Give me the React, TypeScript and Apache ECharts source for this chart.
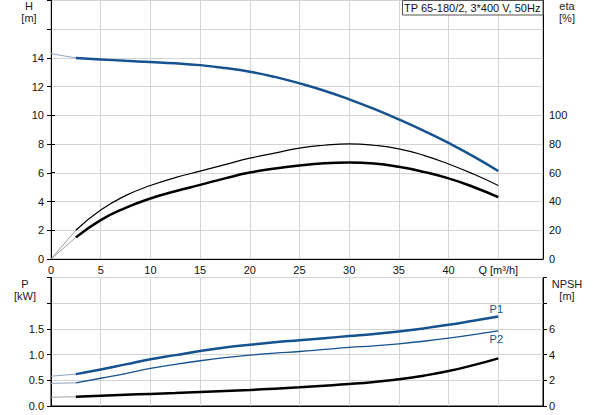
import React, { useEffect, useRef } from "react";
import * as echarts from "echarts";

// Flow values (m³/h) for the main curve sections
const Q = [2.5, 5, 7.5, 10, 12.5, 15, 17.5, 20, 22.5, 25, 27.5, 30, 32.5, 35, 37.5, 40, 42.5, 45];
// Flow values for the thin starting sections
const Q_START = [0, 2.5];

// Head H [m]
const H = [14.0, 13.9, 13.8, 13.72, 13.63, 13.5, 13.3, 13.04, 12.68, 12.23, 11.72, 11.12, 10.45, 9.72, 8.93, 8.08, 7.15, 6.13];
const H_START = [14.3, 14.0];

// Efficiencies eta [%]
const ETA_PUMP = [20, 34, 44, 51, 56.5, 61, 65.5, 70, 73.5, 77, 79, 80, 79, 76.5, 72, 66, 59, 51];
const ETA_PUMP_START = [0, 20];
const ETA_TOTAL = [15, 27, 35.5, 42, 47, 51.5, 56, 60, 62.8, 65, 66.5, 67, 66.3, 64, 60.5, 56, 50, 43];
const ETA_TOTAL_START = [0, 15];

// Power P1, P2 [kW]
const P1 = [0.62, 0.71, 0.81, 0.91, 0.99, 1.07, 1.14, 1.19, 1.24, 1.28, 1.32, 1.36, 1.4, 1.45, 1.51, 1.58, 1.66, 1.74];
const P1_START = [0.58, 0.62];
const P2 = [0.45, 0.54, 0.63, 0.73, 0.81, 0.88, 0.94, 0.99, 1.03, 1.06, 1.1, 1.14, 1.17, 1.21, 1.26, 1.32, 1.39, 1.46];
const P2_START = [0.44, 0.45];

// NPSH [m]
const NPSH = [0.72, 0.8, 0.87, 0.94, 1.01, 1.09, 1.17, 1.25, 1.35, 1.46, 1.58, 1.71, 1.87, 2.08, 2.36, 2.72, 3.18, 3.71];
const NPSH_START = [0.68, 0.72];

// Tick labels
const Q_TICKS = [0, 5, 10, 15, 20, 25, 30, 35, 40];
const Q_UNIT_TICK = 45;
const H_TICKS = [0, 2, 4, 6, 8, 10, 12, 14];
const ETA_TICKS = [0, 20, 40, 60, 80, 100];
const P_TICKS = [0, 0.5, 1.0, 1.5];
const NPSH_TICKS = [0, 2, 4, 6];

const TITLE = "TP 65-180/2, 3*400 V, 50Hz";

const BLUE = "#15528f";
const BLUE_LIGHT = "#8fa6c2";
const GREY_LIGHT = "#a0a0a0";
const GRID = "#d4d4d4";
const FONT = "Liberation Sans, Arial, sans-serif";

const pairs = (xs: number[], ys: number[]) => xs.map((x, i) => [x, ys[i]]);

export default function App() {
  const ref = useRef<HTMLDivElement>(null);
  useEffect(() => {
    if (!ref.current) return;
    const chart = echarts.init(ref.current, undefined, { renderer: "svg" });
    const axisText = { color: "#111", fontSize: 11, fontFamily: FONT };
    const blackLine = { show: true, lineStyle: { color: "#000", width: 1 } };
    const split = { show: true, lineStyle: { color: GRID, width: 1 } };

    const line = (
      name: string,
      xs: number[],
      ys: number[],
      color: string,
      width: number,
      xAxisIndex: number,
      yAxisIndex: number,
      extra: any = {}
    ) => ({
      name,
      type: "line",
      xAxisIndex,
      yAxisIndex,
      data: pairs(xs, ys),
      showSymbol: false,
      symbol: "none",
      smooth: 0.5,
      lineStyle: { color, width },
      itemStyle: { color },
      z: 5,
      ...extra,
    });

    const label = (x: number, y: number, text: string) => ({
      type: "text",
      x,
      y,
      style: { text, fill: "#222", font: `11px ${FONT}`, textAlign: "center", textVerticalAlign: "middle" },
    });

    chart.setOption({
      animation: false,
      textStyle: { fontFamily: FONT },
      grid: [
        { left: 51, right: 50, top: 0.5, height: 258.5, show: true, borderColor: "#9a9a9a", borderWidth: 1 },
        { left: 51, right: 50, top: 115, height: 144, show: false },
        { left: 51, right: 50, top: 277.5, height: 128.5, show: true, borderColor: "#000", borderWidth: 1 },
      ],
      xAxis: [
        {
          gridIndex: 0,
          type: "value",
          min: 0,
          max: 49.5,
          interval: 5,
          axisLine: blackLine,
          axisTick: { show: false },
          splitLine: split,
          axisLabel: {
            ...axisText,
            margin: 5,
            showMaxLabel: false,
            formatter: (v: number) =>
              v === Q_UNIT_TICK ? "Q [m³/h]" : Q_TICKS.includes(v) ? String(v) : "",
          },
        },
        { gridIndex: 1, type: "value", min: 0, max: 49.5, show: false },
        {
          gridIndex: 2,
          type: "value",
          min: 0,
          max: 49.5,
          interval: 5,
          axisLine: blackLine,
          axisTick: { show: false },
          axisLabel: { show: false },
          splitLine: split,
        },
      ],
      yAxis: [
        {
          gridIndex: 0,
          type: "value",
          min: 0,
          max: 18,
          interval: 2,
          axisLine: blackLine,
          axisTick: { show: true, length: 4, lineStyle: { color: "#000" } },
          splitLine: split,
          axisLabel: {
            ...axisText,
            margin: 7,
            formatter: (v: number) => (H_TICKS.includes(v) ? String(v) : ""),
          },
        },
        {
          gridIndex: 0,
          type: "value",
          position: "right",
          min: 0,
          max: 18,
          axisLine: blackLine,
          axisTick: { show: false },
          axisLabel: { show: false },
          splitLine: { show: false },
        },
        {
          gridIndex: 1,
          type: "value",
          position: "right",
          min: 0,
          max: 100,
          interval: 20,
          axisLine: blackLine,
          axisTick: { show: true, length: 4, lineStyle: { color: "#000" } },
          splitLine: { show: false },
          axisLabel: {
            ...axisText,
            margin: 6,
            formatter: (v: number) => (ETA_TICKS.includes(v) ? String(v) : ""),
          },
        },
        {
          gridIndex: 2,
          type: "value",
          min: 0,
          max: 2.5,
          interval: 0.5,
          axisLine: blackLine,
          axisTick: { show: true, length: 4, lineStyle: { color: "#000" } },
          splitLine: split,
          axisLabel: {
            ...axisText,
            margin: 7,
            formatter: (v: number) =>
              P_TICKS.some((t) => Math.abs(t - v) < 1e-6) ? v.toFixed(1) : "",
          },
        },
        {
          gridIndex: 2,
          type: "value",
          position: "right",
          min: 0,
          max: 10,
          interval: 2,
          axisLine: blackLine,
          axisTick: { show: true, length: 4, lineStyle: { color: "#000" } },
          splitLine: { show: false },
          axisLabel: {
            ...axisText,
            margin: 6,
            formatter: (v: number) => (NPSH_TICKS.includes(v) ? String(v) : ""),
          },
        },
      ],
      graphic: [
        label(29, 6, "H"),
        label(29, 18, "[m]"),
        label(567, 6, "eta"),
        label(567, 18, "[%]"),
        label(25, 284, "P"),
        label(25, 296, "[kW]"),
        label(567, 284, "NPSH"),
        label(567, 296, "[m]"),
        {
          type: "rect",
          shape: { x: 402.5, y: 0.5, width: 140.5, height: 14.5 },
          style: { fill: "#fff", stroke: "#555", lineWidth: 1 },
          z: 10,
        },
        {
          type: "text",
          x: 404,
          y: 8,
          z: 11,
          style: { text: TITLE, fill: "#111", font: `11px ${FONT}`, textAlign: "left", textVerticalAlign: "middle" },
        },
      ],
      series: [
        line("H start", Q_START, H_START, BLUE_LIGHT, 1, 0, 0, { smooth: false }),
        line("H", Q, H, BLUE, 2.5, 0, 0),
        line("eta pump start", Q_START, ETA_PUMP_START, GREY_LIGHT, 1, 1, 2, { smooth: false }),
        line("eta pump", Q, ETA_PUMP, "#000", 1.2, 1, 2),
        line("eta total start", Q_START, ETA_TOTAL_START, GREY_LIGHT, 1, 1, 2, { smooth: false }),
        line("eta total", Q, ETA_TOTAL, "#000", 2.5, 1, 2),
        line("P1 start", Q_START, P1_START, BLUE_LIGHT, 1, 2, 3, { smooth: false }),
        line("P1", Q, P1, BLUE, 2.5, 2, 3, {
          endLabel: { show: true, formatter: "P1", color: BLUE, fontSize: 11, fontFamily: FONT, distance: 0, align: "center", offset: [-2, -8] },
        }),
        line("P2 start", Q_START, P2_START, BLUE_LIGHT, 1, 2, 3, { smooth: false }),
        line("P2", Q, P2, BLUE, 1.3, 2, 3, {
          endLabel: { show: true, formatter: "P2", color: BLUE, fontSize: 11, fontFamily: FONT, distance: 0, align: "center", offset: [-2, 8] },
        }),
        line("NPSH start", Q_START, NPSH_START, GREY_LIGHT, 1, 2, 4, { smooth: false }),
        line("NPSH", Q, NPSH, "#000", 2.5, 2, 4),
      ],
    });
    return () => chart.dispose();
  }, []);
  return (
    <div
      ref={ref}
      style={{ position: "absolute", left: 0, top: 0, width: 593, height: 415, background: "#fff" }}
    />
  );
}
